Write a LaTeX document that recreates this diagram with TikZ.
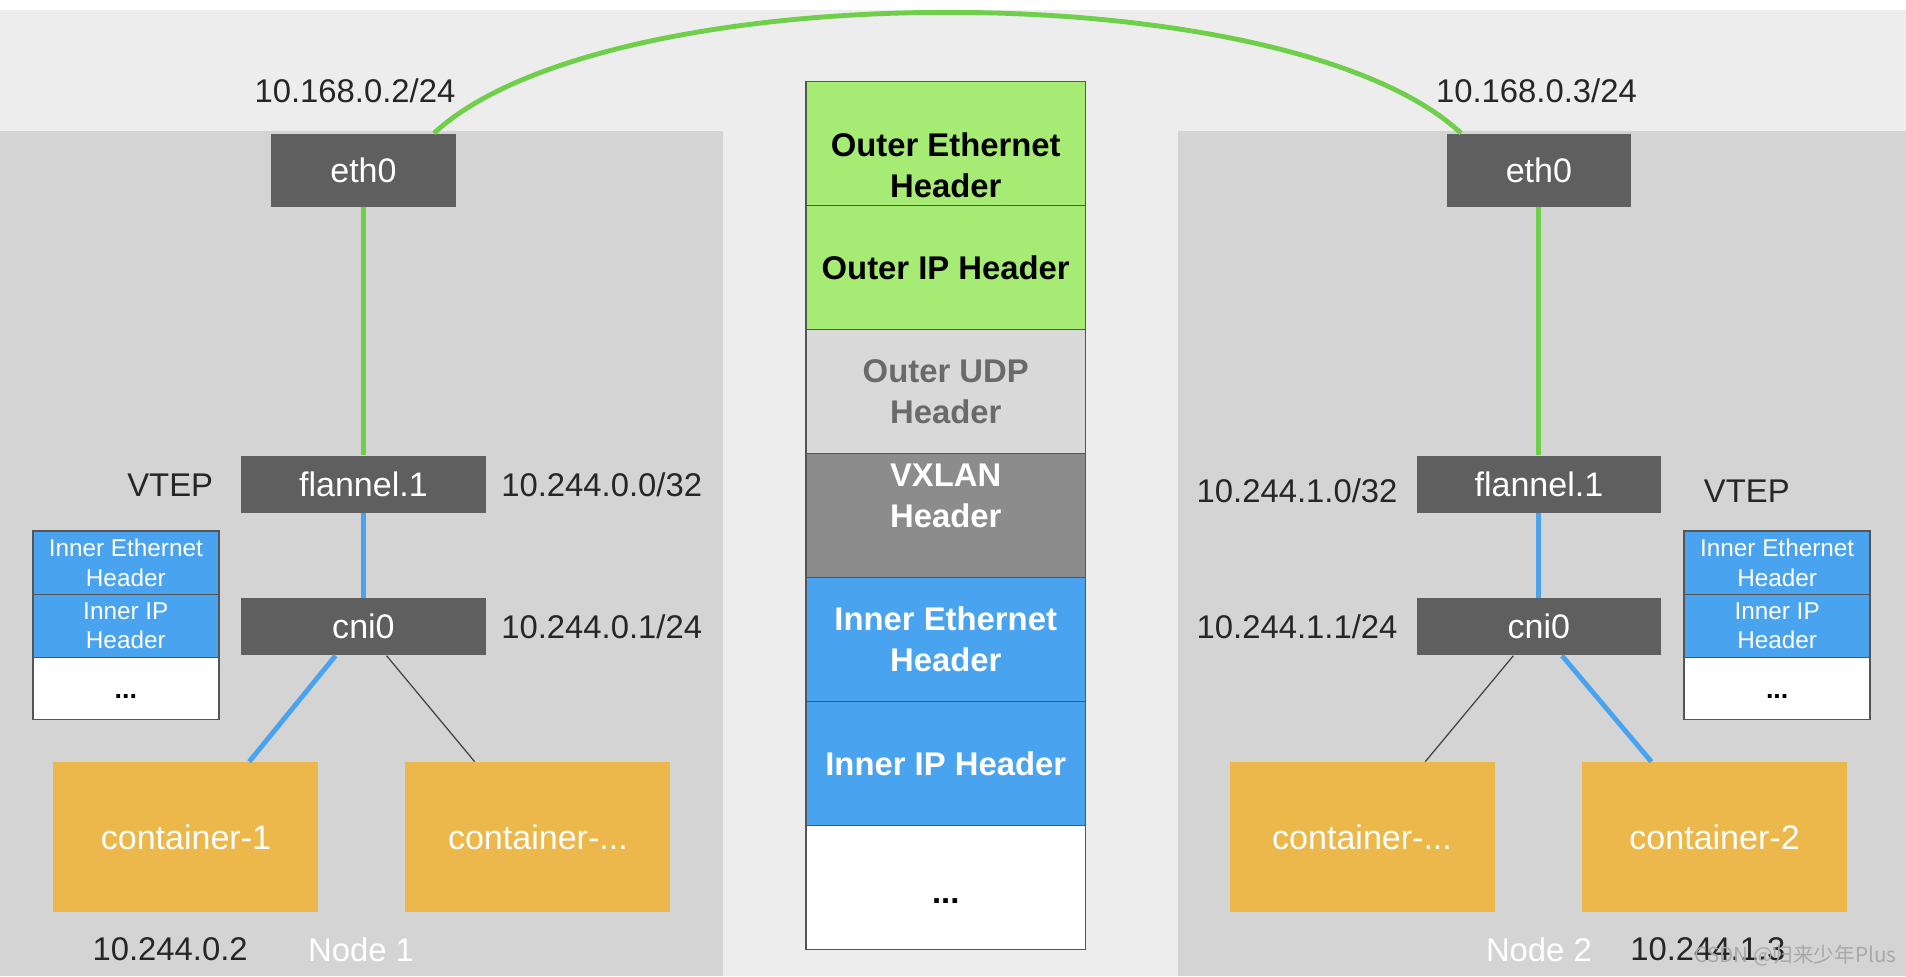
\documentclass[tikz,border=0pt]{standalone}
\usepackage{fontspec}
\setmainfont{Liberation Sans}
\newfontfamily\cjkfont{Noto Sans CJK SC}
\definecolor{bgc}{HTML}{EDEDED}
\definecolor{panelc}{HTML}{D4D4D4}
\definecolor{devc}{HTML}{5F5F5F}
\definecolor{greenl}{HTML}{6FCF4A}
\definecolor{greenf}{HTML}{A6EB73}
\definecolor{bluef}{HTML}{4AA3EE}
\definecolor{contc}{HTML}{EDB84B}
\definecolor{udpc}{HTML}{D9D9D9}
\definecolor{udpt}{HTML}{6A6A6A}
\definecolor{vxc}{HTML}{8C8C8C}
\definecolor{stkb}{HTML}{555555}
\definecolor{wmc}{HTML}{A8A8A8}
\begin{document}
\begin{tikzpicture}[x=0.5pt,y=-0.5pt,
  dev/.style={fill=devc, text=white, font=\fontsize{14}{17}\selectfont, inner sep=0pt, minimum width=100.5pt, minimum height=23.5pt},
  cont/.style={fill=contc, text=white, font=\fontsize{14}{17}\selectfont, inner sep=0pt, minimum width=109pt, minimum height=61.5pt},
  lbl/.style={font=\fontsize{13.5}{16}\selectfont, text=black!85, inner sep=0pt},
  nodelbl/.style={font=\fontsize{13.5}{16}\selectfont, text=white, inner sep=0pt},
  bigrow/.style={draw=stkb, line width=0.5pt, inner sep=0pt, minimum width=115pt, minimum height=51pt, align=center, font=\fontsize{13.5}{17}\selectfont\bfseries},
  bigtxt/.style={inner sep=0pt, align=center, font=\fontsize{13.5}{17}\selectfont\bfseries},
  smallrow/.style={draw=stkb, line width=0.6pt, inner sep=0pt, minimum width=76.5pt, minimum height=26pt, align=center, font=\fontsize{10}{12}\selectfont},
  gline/.style={greenl, line width=2pt},
  bline/.style={bluef, line width=2pt},
  tline/.style={black!75, line width=0.5pt}]
\useasboundingbox (0,0) rectangle (1568,803);
\fill[bgc] (0,0) rectangle (1568,803);
\fill[white] (0,0) rectangle (1568,8);
\fill[panelc] (0,108) rectangle (595,803);
\fill[panelc] (969,108) rectangle (1568,803);

% ---- Left node
\node[dev, minimum width=76pt, minimum height=30pt] (eth0L) at (299,140) {eth0};
\node[dev] (flanL) at (299,398.5) {flannel.1};
\node[dev] (cniL) at (299,515.5) {cni0};
\node[cont] (c1L) at (153,688.5) {container-1};
\node[cont] (c2L) at (442.5,688.5) {container-...};
\node[lbl] (ipL) at (292,75) {10.168.0.2/24};
\node[lbl] (vtepL) at (140,399) {VTEP};
\node[lbl] (flanipL) at (495,399) {10.244.0.0/32};
\node[lbl] (cniipL) at (495,516) {10.244.0.1/24};
\node[lbl] (c1ipL) at (140,781) {10.244.0.2};
\node[nodelbl] (node1) at (297,781) {Node 1};
\node[smallrow, fill=bluef, text=white] (s1L) at (103.5,463) {Inner Ethernet\\Header};
\node[smallrow, fill=bluef, text=white] (s2L) at (103.5,515) {Inner IP\\Header};
\node[smallrow, fill=white, minimum height=25.5pt, text height=8.5pt, text depth=0pt, font=\fontsize{11}{12}\selectfont\bfseries] (s3L) at (103.5,566.5) {...};

\draw[gline] (eth0L.south) -- (flanL.north);
\draw[bline] (flanL.south) -- (cniL.north);
\draw[bline] ([xshift=-11.5pt]cniL.south) -- ([xshift=26pt]c1L.north);
\draw[tline] ([xshift=9.5pt]cniL.south) -- ([xshift=-26pt]c2L.north);

% ---- Right node
\node[dev, minimum width=76pt, minimum height=30pt] (eth0R) at (1266,140) {eth0};
\node[dev] (flanR) at (1266,398.5) {flannel.1};
\node[dev] (cniR) at (1266,515.5) {cni0};
\node[cont] (c1R) at (1120.5,688.5) {container-...};
\node[cont] (c2R) at (1410.5,688.5) {container-2};
\node[lbl] (ipR) at (1264,75) {10.168.0.3/24};
\node[lbl] (vtepR) at (1437,404) {VTEP};
\node[lbl] (flanipR) at (1067,404) {10.244.1.0/32};
\node[lbl] (cniipR) at (1067,516) {10.244.1.1/24};
\node[lbl] (c2ipR) at (1405,781) {10.244.1.3};
\node[nodelbl] (node2) at (1266,781) {Node 2};
\node[smallrow, fill=bluef, text=white] (s1R) at (1462,463) {Inner Ethernet\\Header};
\node[smallrow, fill=bluef, text=white] (s2R) at (1462,515) {Inner IP\\Header};
\node[smallrow, fill=white, minimum height=25.5pt, text height=8.5pt, text depth=0pt, font=\fontsize{11}{12}\selectfont\bfseries] (s3R) at (1462,566.5) {...};

\draw[gline] (eth0R.south) -- (flanR.north);
\draw[bline] (flanR.south) -- (cniR.north);
\draw[tline] ([xshift=-10.5pt]cniR.south) -- ([xshift=26pt]c1R.north);
\draw[bline] ([xshift=9.5pt]cniR.south) -- ([xshift=-26pt]c2R.north);

% ---- Center packet
\node[bigrow, fill=greenf] (p1) at (778,118) {};
\node[bigtxt, text=black] (p1t) at (778,136) {Outer Ethernet\\Header};
\node[bigrow, fill=greenf, text=black] (p2) at (778,220) {Outer IP Header};
\node[bigrow, fill=udpc, text=udpt] (p3) at (778,322) {Outer UDP\\Header};
\node[bigrow, fill=vxc, text=white, text depth=16pt] (p4) at (778,424) {VXLAN\\Header};
\node[bigrow, fill=bluef, text=white] (p5) at (778,526) {Inner Ethernet\\Header};
\node[bigrow, fill=bluef, text=white] (p6) at (778,628) {Inner IP Header};
\node[bigrow, fill=white, text=black, text height=13pt, text depth=0pt] (p7) at (778,730) {...};

% ---- Arc between eth0s
\draw[gline] ([xshift=29pt]eth0L.north) .. controls (500,-23) and (1060,-23) .. ([xshift=-32pt]eth0R.north);

% watermark
\node[font=\cjkfont\fontsize{8.5}{10}\selectfont, text=wmc, inner sep=0pt] (wm) at (1477,786) {CSDN @归来少年Plus};
\end{tikzpicture}
\end{document}
